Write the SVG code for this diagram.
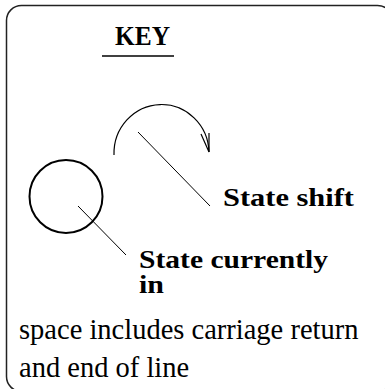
<svg xmlns="http://www.w3.org/2000/svg" width="385" height="389" viewBox="0 0 385 389">
  <style>
    .frame { fill: #fff; stroke: #222; stroke-width: 1.5; }
    .label { font-family: 'Liberation Serif', 'DejaVu Serif', serif; font-weight: bold; fill: #000; }
    .note { font-family: 'Liberation Serif', 'DejaVu Serif', serif; font-size: 28.5px; fill: #000; }
    .thin { fill: none; stroke: #000; stroke-width: 1.2; }
    .leader { fill: none; stroke: #000; stroke-width: 1; }
  </style>

  <!-- background -->
  <rect x="0" y="0" width="385" height="389" fill="#fff"/>

  <!-- legend frame, runs past the right and bottom edges -->
  <g id="frame">
    <rect class="frame" x="6.5" y="5.5" width="386" height="386" rx="15" ry="15"/>
  </g>

  <!-- heading -->
  <g id="title">
    <text class="label" x="115" y="45" font-size="28" textLength="55" lengthAdjust="spacingAndGlyphs">KEY</text>
    <line x1="102" y1="56" x2="174" y2="56" stroke="#000" stroke-width="1.3"/>
  </g>

  <!-- state shift symbol: arc with open arrowhead -->
  <g id="state-shift">
    <path class="thin" d="M114,155 A47.5,49 0 0 1 209,152"/>
    <polyline class="thin" points="201,134 209,152 209,133"/>
    <text class="label" x="223" y="206" font-size="26" textLength="131" lengthAdjust="spacingAndGlyphs">State shift</text>
  </g>

  <!-- current state symbol: circle -->
  <g id="state-current">
    <circle cx="66" cy="196.5" r="36.5" fill="none" stroke="#000" stroke-width="2"/>
    <text class="label" x="139" y="268" font-size="26" textLength="189" lengthAdjust="spacingAndGlyphs">State currently</text>
    <text class="label" x="139" y="293" font-size="26" textLength="25" lengthAdjust="spacingAndGlyphs">in</text>
  </g>

  <!-- footnote -->
  <g id="note">
    <text class="note" x="19" y="339">space includes carriage return</text>
    <text class="note" x="19" y="377">and end of line</text>
  </g>

  <!-- leader lines from labels to symbols -->
  <g id="connectors">
    <line class="leader" x1="138" y1="132" x2="210" y2="206"/>
    <line class="leader" x1="78" y1="206" x2="126" y2="255"/>
  </g>
</svg>
